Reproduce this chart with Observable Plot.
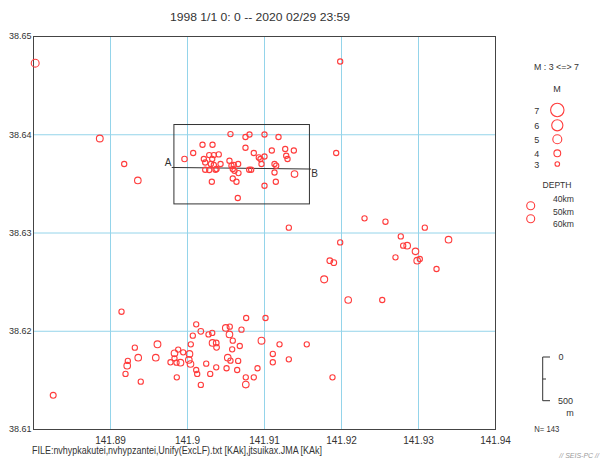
<!DOCTYPE html>
<html>
<head>
<meta charset="utf-8">
<script src="https://cdn.jsdelivr.net/npm/d3@7"></script>
<script src="https://cdn.jsdelivr.net/npm/@observablehq/plot@0.6"></script>
<style>
  html, body { margin: 0; padding: 0; background: #fff; }
  #chart svg { display: block; }
</style>
</head>
<body>
<div id="chart"></div>
<script>
// ---- data (longitude, latitude, magnitude) ----
const lon = [
  141.88022, 141.88861, 141.89178, 141.89355, 141.91983, 141.91931,
  141.89961, 141.90074, 141.90195, 141.90325, 141.90558, 141.90753, 141.90805, 141.91000, 141.91182, 141.90753,
  141.90861, 141.90926, 141.90948, 141.91000, 141.91095, 141.91269, 141.91282, 141.91299, 141.91381, 141.90212,
  141.90230, 141.90282, 141.90342, 141.90406, 141.90321, 141.90303, 141.90342, 141.90377, 141.90429, 141.90230,
  141.90282, 141.90364, 141.90545, 141.90571, 141.90601, 141.90658, 141.90588, 141.90610, 141.90662, 141.90588,
  141.90636, 141.90801, 141.90827, 141.90961, 141.91130, 141.91152, 141.91130, 141.91147, 141.91000, 141.91390,
  141.90316, 141.90653,
  141.89143, 141.90113, 141.90173, 141.90069, 141.90273, 141.90321, 141.90497, 141.90549, 141.90545, 141.90701,
  141.90762, 141.91013, 141.90588, 141.90325, 141.90373, 141.90377, 141.90043, 141.90679, 141.90580, 141.90961,
  141.91195, 141.91108, 141.91108, 141.91316, 141.89610, 141.89316, 141.89360, 141.89225, 141.89217, 141.89195,
  141.89393, 141.89588, 141.89831, 141.89879, 141.89944, 141.90026, 141.90017, 141.90039, 141.89831, 141.89779,
  141.89857, 141.89909, 141.89861, 141.90113, 141.90126, 141.90173, 141.90243, 141.90295, 141.90373, 141.90523,
  141.90558, 141.90507, 141.90658, 141.90645, 141.90757, 141.90757, 141.90861, 141.90909, 141.88256, 141.91549,
  141.91883,
  141.91316, 141.92299, 141.92571, 141.93082, 141.92770, 141.92801, 141.92853, 141.92961, 141.92701, 141.93017,
  141.92983, 141.93390, 141.93234, 141.91983, 141.91848, 141.91900, 141.91775, 141.92087, 141.92529
];
const lat = [
  38.64729, 38.63962, 38.63702, 38.63535, 38.64746, 38.63814,
  38.63753, 38.63814, 38.63898, 38.63898, 38.64007, 38.63977, 38.64003, 38.64003, 38.63977, 38.63868,
  38.63814, 38.63769, 38.63753, 38.63779, 38.63840, 38.63855, 38.63786, 38.63753, 38.63840, 38.63753,
  38.63718, 38.63793, 38.63793, 38.63800, 38.63753, 38.63702, 38.63692, 38.63651, 38.63702, 38.63644,
  38.63641, 38.63644, 38.63735, 38.63685, 38.63692, 38.63702, 38.63651, 38.63634, 38.63610, 38.63555,
  38.63522, 38.63644, 38.63644, 38.63702, 38.63702, 38.63685, 38.63616, 38.63522, 38.63481, 38.63600,
  38.63522, 38.63356,
  38.62199, 38.62070, 38.61999, 38.61955, 38.61968, 38.61983, 38.62034, 38.62047, 38.61968, 38.62016,
  38.62135, 38.62135, 38.61904, 38.61881, 38.61881, 38.61836, 38.61867, 38.61850, 38.61816, 38.61904,
  38.61867, 38.61769, 38.61684, 38.61714, 38.61867, 38.61833, 38.61731, 38.61698, 38.61650, 38.61566,
  38.61487, 38.61731, 38.61775, 38.61813, 38.61785, 38.61769, 38.61708, 38.61667, 38.61724, 38.61684,
  38.61680, 38.61680, 38.61531, 38.61606, 38.61566, 38.61454, 38.61670, 38.61566, 38.61633, 38.61731,
  38.61701, 38.61623, 38.61698, 38.61606, 38.61531, 38.61457, 38.61531, 38.61623, 38.61348, 38.61867,
  38.61531,
  38.63054, 38.63149, 38.63115, 38.63054, 38.62965, 38.62871, 38.62871, 38.62813, 38.62752, 38.62735,
  38.62718, 38.62932, 38.62634, 38.62904, 38.62718, 38.62698, 38.62528, 38.62318, 38.62318
];
const mag = [
  4.5, 4.0, 3.3, 3.9, 3.3, 3.3,
  3.4, 3.3, 3.3, 3.3, 3.3, 3.3, 3.3, 3.3, 3.3, 3.3,
  3.3, 3.3, 3.3, 3.3, 3.3, 3.3, 3.3, 3.3, 3.3, 3.3,
  3.3, 3.3, 3.3, 3.3, 3.3, 3.3, 3.3, 3.3, 3.3, 3.3,
  3.3, 3.3, 3.3, 3.3, 3.3, 3.3, 3.3, 3.3, 3.3, 3.3,
  3.3, 3.3, 3.3, 3.3, 3.3, 3.3, 3.3, 3.3, 3.3, 3.9,
  3.3, 3.3,
  3.3, 3.3, 3.5, 3.3, 3.3, 3.3, 3.9, 3.3, 3.9, 3.3,
  3.3, 3.3, 3.3, 3.9, 3.5, 3.5, 3.3, 3.3, 3.3, 4.0,
  3.3, 3.3, 3.3, 3.3, 4.0, 3.3, 3.9, 3.3, 3.9, 3.3,
  3.3, 3.9, 3.9, 3.3, 3.3, 3.9, 3.9, 3.9, 3.3, 3.3,
  3.3, 3.9, 3.3, 3.3, 3.3, 3.3, 3.3, 3.3, 3.3, 3.9,
  3.3, 3.3, 3.3, 3.3, 3.3, 3.9, 3.3, 3.3, 3.6, 3.3,
  3.3,
  3.3, 3.3, 3.3, 3.3, 3.3, 3.3, 3.9, 3.9, 3.3, 3.3,
  3.9, 3.9, 3.3, 3.3, 3.5, 3.5, 4.1, 3.9, 3.3
];

// axis ticks
const xTicks = [141.89, 141.9, 141.91, 141.92, 141.93, 141.94];
const yTicks = [38.61, 38.62, 38.63, 38.64, 38.65];
const xGrid = [141.89, 141.9, 141.91, 141.92, 141.93];
const yGrid = [38.62, 38.63, 38.64];

// cross-section box and A-B line
const boxLon = [141.8983, 141.9159];
const boxLat = [38.63291, 38.64099];
const sectionLon = [141.8980, 141.9160];
const sectionLat = [38.63667, 38.63651];
const sectionLabel = ["A", "B"];

// legend
const legendMags = [7, 6, 5, 4, 3];
const depthLabels = ["40km", "50km", "60km"];
const titleText = "1998 1/1 0: 0 -- 2020 02/29 23:59";
const captionText = "FILE:nvhypkakutei,nvhypzantei,Unify(ExcLF).txt [KAk],jtsuikax.JMA [KAk]";
const countText = "N= 143";

const quakes = lon.map((d, i) => ({lon: d, lat: lat[i], mag: mag[i]}));
const box = [{x1: boxLon[0], x2: boxLon[1], y1: boxLat[0], y2: boxLat[1]}];
const section = sectionLon.map((d, i) => ({lon: d, lat: sectionLat[i], label: sectionLabel[i]}));

const fmt = d => String(+d.toFixed(2));
const red = "#ff3c3c";
const grid = "#94d4ea";
const font = "Liberation Sans, Arial, sans-serif";

const plot = Plot.plot({
  width: 606,
  height: 464,
  marginLeft: 33,
  marginRight: 111,
  marginTop: 36,
  marginBottom: 35,
  style: {fontFamily: font, fontSize: "10px", color: "#333", background: "#fff"},
  x: {domain: [141.88, 141.94]},
  y: {domain: [38.61, 38.65]},
  r: {type: "linear", domain: [3, 7], range: [2.3, 6.7]},
  marks: [
    Plot.gridX(xGrid, {stroke: grid, strokeOpacity: 1, strokeWidth: 1}),
    Plot.gridY(yGrid, {stroke: grid, strokeOpacity: 1, strokeWidth: 1}),
    Plot.frame({stroke: "#444", strokeWidth: 1}),
    Plot.axisX(xTicks, {tickSize: 0, tickPadding: 7, tickFormat: fmt, fontSize: 10, fill: "#333"}),
    Plot.axisY(yTicks, {tickSize: 0, tickPadding: 2, tickFormat: fmt, fontSize: 9, fill: "#333"}),
    Plot.rect(box, {x1: "x1", x2: "x2", y1: "y1", y2: "y2", fill: "none", stroke: "#333", strokeWidth: 1}),
    Plot.line(section, {x: "lon", y: "lat", stroke: "#333", strokeWidth: 1}),
    Plot.text(section.filter(d => d.label === "A"), {x: "lon", y: "lat", text: "label",
      fontSize: 10, fill: "#333", textAnchor: "middle", dx: -4, dy: -5}),
    Plot.text(section.filter(d => d.label === "B"), {x: "lon", y: "lat", text: "label",
      fontSize: 10, fill: "#333", textAnchor: "middle", dx: 4, dy: 5}),
    Plot.dot(quakes, {x: "lon", y: "lat", r: "mag", stroke: red, strokeWidth: 1.1, fill: "none"})
  ]
});

document.getElementById("chart").appendChild(plot);

const svg = d3.select(plot);
const rScale = plot.scale("r");
const g = svg.append("g").attr("font-family", font).attr("fill", "#333");

function txt(x, y, s, size, anchor, width) {
  const t = g.append("text").attr("x", x).attr("y", y).attr("font-size", size)
    .attr("text-anchor", anchor || "start").text(s);
  if (width) t.attr("textLength", width).attr("lengthAdjust", "spacingAndGlyphs");
  return t;
}

// title and caption
txt(170, 21, titleText, 11, "start", 180);
txt(32, 454, captionText, 10, "start", 290);

// magnitude legend
txt(534, 70, "M : 3 <=> 7", 9, "start", 45);
txt(557, 92, "M", 9, "middle");
const legendY = [110, 125.3, 139.3, 153.3, 164];
legendMags.forEach((m, i) => {
  g.append("circle").attr("cx", 557.3).attr("cy", legendY[i]).attr("r", rScale.apply(m))
    .attr("fill", "none").attr("stroke", red).attr("stroke-width", 1.1);
  txt(536.7, legendY[i] + 3.5, String(m), 9, "middle");
});

// depth legend
txt(557, 188, "DEPTH", 9, "middle", 29);
const depthY = [202, 214.7, 226.7];
depthLabels.forEach((s, i) => txt(553, depthY[i], s, 9, "start", 21));
[205.7, 218.7].forEach(cy => g.append("circle").attr("cx", 530.7).attr("cy", cy).attr("r", 4)
  .attr("fill", "none").attr("stroke", red).attr("stroke-width", 1.1));

// distance scale bar
g.append("path").attr("d", "M550,357H542.7V400.7H550M542.7,379H546")
  .attr("fill", "none").attr("stroke", "#333").attr("stroke-width", 1);
txt(561, 360, "0", 9, "middle");
txt(558, 404, "500", 9, "start");
txt(570, 416, "m", 9, "middle");
txt(534.3, 432, countText, 9, "start", 25);
txt(599, 458, "// SEIS-PC //", 7, "end").attr("fill", "#999").attr("font-style", "italic");
</script>
</body>
</html>
